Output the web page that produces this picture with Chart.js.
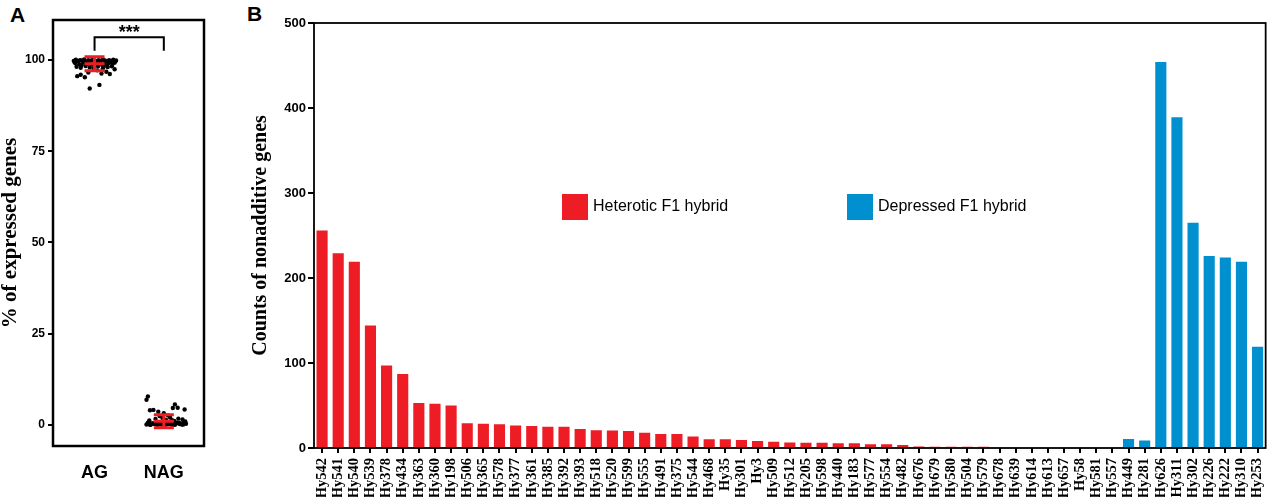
<!DOCTYPE html>
<html>
<head>
<meta charset="utf-8">
<script src="https://cdn.jsdelivr.net/npm/chart.js@4.4.0/dist/chart.umd.min.js"></script>
<style>
  body{margin:0;background:#fff;width:1280px;height:497px;overflow:hidden;position:relative;font-family:'Liberation Sans',Arial,sans-serif}
  #wrapA{position:absolute;left:0;top:0;width:215px;height:497px}
  #wrapB{position:absolute;left:230px;top:0;width:1050px;height:497px}
  .tag{position:absolute;font-weight:bold;font-size:21px;color:#000;line-height:1}
</style>
</head>
<body>
<div class="tag" style="left:10px;top:4px">A</div>
<div class="tag" style="left:247px;top:3px">B</div>
<div id="wrapA"><canvas id="chartA"></canvas></div>
<div id="wrapB"><canvas id="chartB"></canvas></div>
<script>
// ---- panel A : % of expressed genes per hybrid ----
const groupLabels = ['AG','NAG'];
const agJitter = [-0.30,-0.27,-0.24,-0.21,-0.18,-0.15,-0.12,-0.09,-0.06,-0.03,0.00,0.03,0.06,0.09,0.12,0.15,0.18,0.21,0.24,0.27,0.30,0.31,
  -0.28,-0.22,-0.16,-0.10,-0.04,0.02,0.08,0.14,0.20,0.26,-0.19,0.11,0.29,
  -0.26,-0.20,-0.13,-0.07,0.05,0.12,0.19,0.25,-0.01,0.16,
  -0.25,-0.20,-0.14,0.10,0.17,0.29,-0.09,0.04,0.22,
  -0.07,0.07,-0.29,0.00,0.23];
const agPercent = [99.8,100.1,99.7,100.0,99.9,100.2,99.6,100.0,99.8,100.1,99.9,99.7,100.0,99.8,100.2,99.9,99.6,100.0,99.8,100.1,99.7,99.9,
  99.2,98.9,99.3,99.0,98.8,99.1,99.4,98.9,99.2,99.0,98.6,98.7,99.3,
  98.2,97.9,98.4,98.0,98.3,97.8,98.1,98.3,97.7,98.5,
  95.6,96.0,95.3,96.3,96.8,97.5,96.6,97.2,96.2,
  92.2,93.2,99.5,98.6,99.4];
const nagJitter = [-0.25,-0.22,-0.19,-0.16,-0.13,-0.10,-0.07,-0.04,-0.01,0.02,0.05,0.08,0.11,0.14,0.17,0.20,0.23,0.26,0.29,0.32,
  -0.23,-0.17,-0.11,-0.05,0.01,0.07,0.13,0.19,0.25,0.31,-0.20,-0.08,0.04,0.16,0.28,-0.14,0.10,0.22,
  -0.21,-0.12,-0.02,0.03,0.09,0.15,0.21,-0.06,0.12,0.27,
  -0.20,-0.15,-0.08,0.16,0.13,0.20,0.30,0.00,
  -0.23,-0.25,0.06];
const nagPercent = [0.1,0.3,0.0,0.4,0.2,0.0,0.5,0.1,0.3,0.0,0.2,0.4,0.1,0.0,0.3,0.5,0.2,0.1,0.6,0.3,
  0.6,0.4,0.8,0.2,0.5,0.7,0.3,0.6,0.4,0.9,0.0,0.1,0.2,0.0,0.1,0.3,0.2,0.5,
  1.2,1.6,1.9,1.4,2.0,1.1,1.7,2.4,1.3,1.5,
  4.0,4.1,3.6,5.6,4.6,4.7,4.2,3.2,
  7.8,6.9,2.6];
const groupMean = [99.0, 1.0];
const groupSD = [1.9, 1.8];
const signifText = '***';

// ---- panel B : nonadditive gene counts ----
const hybrids = ['Hy542','Hy541','Hy540','Hy539','Hy378','Hy434','Hy363','Hy360','Hy198','Hy506',
  'Hy365','Hy578','Hy377','Hy361','Hy385','Hy392','Hy393','Hy518','Hy520','Hy599',
  'Hy555','Hy491','Hy375','Hy544','Hy468','Hy35','Hy301','Hy3','Hy509','Hy512',
  'Hy205','Hy598','Hy440','Hy183','Hy577','Hy554','Hy482','Hy676','Hy679','Hy580',
  'Hy504','Hy579','Hy678','Hy639','Hy614','Hy613','Hy657','Hy58','Hy581','Hy557',
  'Hy449','Hy281','Hy626','Hy311','Hy302','Hy226','Hy222','Hy310','Hy253'];
const heteroticCounts = [256,229,219,144,97,87,53,52,50,29,
  28.5,28,26.5,26,25,25,22.5,21,20.5,20,
  18,16.5,16.5,13.4,10.2,10.2,9.4,8.3,7.5,6.4,
  6.3,6.3,5.5,5.5,4.4,4.3,3.5,1.7,1.6,1.5,
  1.5,1.5,0,0,0,0,0,0,0,0];
const depressedCounts = [10.6,8.7,454,389,265,226,224,219,119];
const seriesNames = ['Heterotic F1 hybrid','Depressed F1 hybrid'];
const seriesColors = ['#ee1c25','#0090cf'];

const serif = "'Liberation Serif','Times New Roman',serif";
const sans = "'Liberation Sans',Arial,sans-serif";

function fixedTicks(values){ return s => { s.ticks = values.map(v => ({value:v})); }; }

const panelAExtras = {
  id:'panelAExtras',
  afterDatasetsDraw(chart){
    const {ctx, chartArea:a, scales:{x,y}} = chart;
    ctx.save();
    // error bars (mean ± SD)
    ctx.strokeStyle = '#ee1c25'; ctx.lineWidth = 3;
    groupMean.forEach((m,i) => {
      const px = x.getPixelForValue(i+1);
      const top = y.getPixelForValue(m + groupSD[i]);
      const bot = y.getPixelForValue(m - groupSD[i]);
      const mid = y.getPixelForValue(m);
      ctx.beginPath();
      ctx.moveTo(px-10,top); ctx.lineTo(px+10,top);
      ctx.moveTo(px-10,bot); ctx.lineTo(px+10,bot);
      ctx.moveTo(px-10,mid); ctx.lineTo(px+10,mid);
      ctx.moveTo(px,top); ctx.lineTo(px,bot);
      ctx.stroke();
    });
    // significance bracket
    const x1 = x.getPixelForValue(1), x2 = x.getPixelForValue(2);
    const yb = y.getPixelForValue(106.3), yl = y.getPixelForValue(102.6);
    ctx.strokeStyle = '#000'; ctx.lineWidth = 2;
    ctx.beginPath();
    ctx.moveTo(x1,yl); ctx.lineTo(x1,yb); ctx.lineTo(x2,yb); ctx.lineTo(x2,yl);
    ctx.stroke();
    ctx.fillStyle = '#000';
    ctx.font = 'bold 18px ' + sans;
    ctx.textAlign = 'center'; ctx.textBaseline = 'alphabetic';
    ctx.fillText(signifText,(x1+x2)/2,yb+1);
    // frame
    ctx.lineWidth = 2.5;
    ctx.strokeRect(a.left,a.top,a.right-a.left,a.bottom-a.top);
    ctx.restore();
  }
};

const panelBExtras = {
  id:'panelBExtras',
  afterDatasetsDraw(chart){
    const {ctx, chartArea:a} = chart;
    ctx.save();
    ctx.strokeStyle = '#000'; ctx.lineWidth = 1.8;
    ctx.strokeRect(a.left,a.top,a.right-a.left,a.bottom-a.top);
    // legend inside plot
    const offs = [248,533];
    ctx.font = '16px ' + sans;
    ctx.textBaseline = 'middle'; ctx.textAlign = 'left';
    chart.data.datasets.forEach((ds,i) => {
      const lx = a.left + offs[i], ly = a.top + 171;
      ctx.fillStyle = ds.backgroundColor;
      ctx.fillRect(lx,ly,26,26);
      ctx.fillStyle = '#000';
      ctx.fillText(ds.label,lx+31,ly+13);
    });
    ctx.restore();
  }
};

new Chart(document.getElementById('chartA'),{
  type:'scatter',
  data:{datasets:[
    {label:groupLabels[0], data:agPercent.map((v,i)=>({x:1+agJitter[i],y:v}))},
    {label:groupLabels[1], data:nagPercent.map((v,i)=>({x:2+nagJitter[i],y:v}))}
  ]},
  options:{
    responsive:true, maintainAspectRatio:false, animation:false,
    layout:{padding:{top:20,right:11,left:0,bottom:0}},
    elements:{point:{radius:2.2,backgroundColor:'#000',borderWidth:0,hoverRadius:2.2}},
    plugins:{legend:{display:false},tooltip:{enabled:false}},
    scales:{
      x:{type:'linear',min:0.4,max:2.58,
         afterBuildTicks:fixedTicks([1,2]),
         afterFit:s=>{s.height=51;},
         grid:{display:false}, border:{display:false},
         ticks:{color:'#000',padding:8,font:{family:sans,size:18,weight:'bold'},
                callback:v=>groupLabels[v-1]}},
      y:{min:-5.8,max:111,
         afterBuildTicks:fixedTicks([0,25,50,75,100]),
         afterFit:s=>{s.width=53;},
         grid:{drawOnChartArea:false,tickLength:5,color:'#000',lineWidth:2},
         border:{display:false},
         ticks:{color:'#000',padding:3,font:{family:sans,size:12,weight:'bold'}},
         title:{display:true,text:'% of expressed genes',color:'#000',padding:{top:0,bottom:0},
                font:{family:serif,size:21,weight:'bold',lineHeight:1}}}
    }
  },
  plugins:[panelAExtras]
});

const nH = heteroticCounts.length, nD = depressedCounts.length;
new Chart(document.getElementById('chartB'),{
  type:'bar',
  data:{labels:hybrids, datasets:[
    {label:seriesNames[0], data:heteroticCounts.concat(Array(nD).fill(null)), backgroundColor:seriesColors[0]},
    {label:seriesNames[1], data:Array(nH).fill(null).concat(depressedCounts), backgroundColor:seriesColors[1]}
  ]},
  options:{
    responsive:true, maintainAspectRatio:false, animation:false,
    layout:{padding:{top:23,right:1,left:15,bottom:0}},
    datasets:{bar:{grouped:false,categoryPercentage:1,barPercentage:0.69}},
    plugins:{legend:{display:false},tooltip:{enabled:false}},
    scales:{
      x:{afterFit:s=>{s.height=49;},
         grid:{display:true,drawOnChartArea:false,offset:false,tickLength:5,color:'#000',lineWidth:2},
         border:{display:false},
         ticks:{color:'#000',autoSkip:false,maxRotation:90,minRotation:90,padding:5,
                font:{family:serif,size:14.5,weight:'bold'}}},
      y:{min:0,max:500,
         afterFit:s=>{s.width=69;},
         grid:{drawOnChartArea:false,tickLength:6,color:'#000',lineWidth:2},
         border:{display:false},
         ticks:{stepSize:100,color:'#000',padding:2,font:{family:sans,size:13,weight:'bold'}},
         title:{display:true,text:'Counts of nonadditive genes',color:'#000',
                font:{family:serif,size:20,weight:'bold'}}}
    }
  },
  plugins:[panelBExtras]
});
</script>
</body>
</html>
